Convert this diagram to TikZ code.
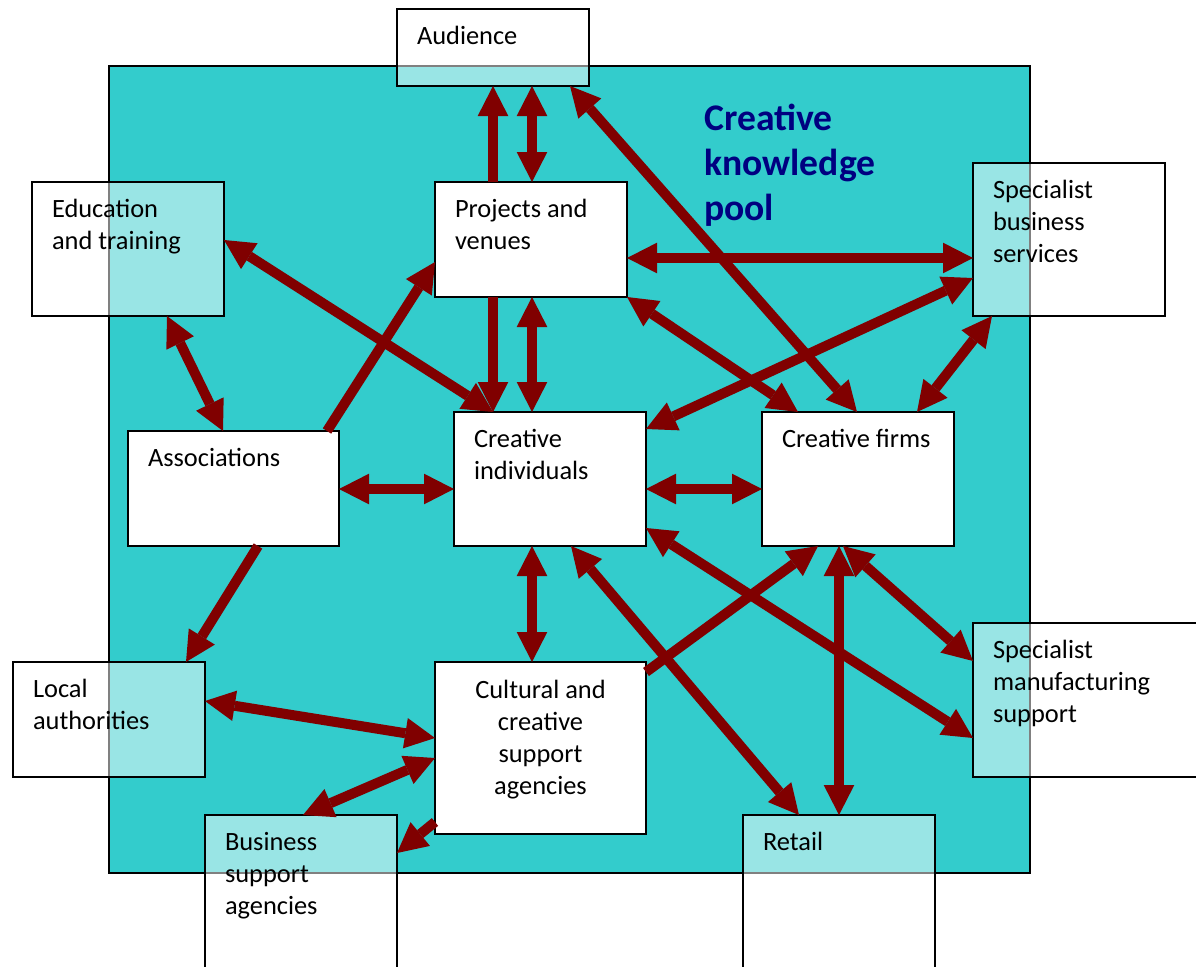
\documentclass[tikz,border=0pt]{standalone}
\usepackage{fontspec}
\setmainfont{Carlito}
\usetikzlibrary{arrows.meta,calc}
\definecolor{poolteal}{HTML}{33CCCC}
\definecolor{arrowred}{HTML}{800000}
\definecolor{titleblue}{RGB}{0,0,128}
\begin{document}
\begin{tikzpicture}[x=0.75pt,y=-0.75pt,
  box/.style 2 args={draw=black, line width=1.1pt, fill=white, minimum width=#1*0.75pt, minimum height=#2*0.75pt, inner sep=0pt, outer sep=0pt},
  outerbox/.style={fill opacity=0.5},
  lbl/.style={anchor=north west, inner sep=0pt, outer sep=0pt, align=left, font=\fontsize{19.8}{24}\selectfont},
  tipa/.tip={Triangle[length=22.5pt, width=23pt, line width=0pt]},
  conn/.style={draw=arrowred, line width=7.5pt},
  one/.style={conn, -tipa},
  two/.style={conn, tipa-tipa}
]
\useasboundingbox (0,0) rectangle (1196,967);
\clip (0,0) rectangle (1196,967);
% knowledge pool
\node[draw=black, line width=1.1pt, fill=poolteal, minimum width=921*0.75pt, minimum height=807*0.75pt, inner sep=0pt, outer sep=0pt] (pool) at (569.5,469.5) {};
\node[anchor=north west, inner sep=0pt, align=left, text=titleblue, font=\bfseries\fontsize{28.2}{33.75}\selectfont] (title) at (704,98.8) {\strut Creative\\knowledge\\pool};

% inner boxes
\node[box={192}{115}] (proj) at (531,239.5) {};
\node[box={211}{115}] (assoc) at (233.5,488.5) {};
\node[box={192}{134}] (indiv) at (550,479) {};
\node[box={192}{134}] (firms) at (858,479) {};
\node[box={211}{172}] (cult) at (540.5,748) {};
% outer boxes (half transparent)
\node[box={192}{77}, outerbox] (aud) at (493,47.5) {};
\node[box={192}{134}, outerbox] (edu) at (128,249) {};
\node[box={192}{153}, outerbox] (sbs) at (1069,239.5) {};
\node[box={192}{115}, outerbox] (local) at (109,719.5) {};
\node[box={230}{154}, outerbox] (sms) at (1088,700) {};
\node[box={192}{172}, outerbox] (bsa) at (301,901) {};
\node[box={192}{172}, outerbox] (retail) at (839,901) {};

% labels
\node[lbl] (taud) at ($(aud.north west)+(20,12.6)$) {\strut Audience};
\node[lbl] (tproj) at ($(proj.north west)+(20,12.6)$) {\strut Projects and\\venues};
\node[lbl] (tedu) at ($(edu.north west)+(20,12.6)$) {\strut Education\\and training};
\node[lbl] (tsbs) at ($(sbs.north west)+(20,12.6)$) {\strut Specialist\\business\\services};
\node[lbl] (tassoc) at ($(assoc.north west)+(20,12.6)$) {\strut Associations};
\node[lbl] (tindiv) at ($(indiv.north west)+(20,12.6)$) {\strut Creative\\individuals};
\node[lbl] (tfirms) at ($(firms.north west)+(20,12.6)$) {\strut Creative firms};
\node[lbl] (tlocal) at ($(local.north west)+(20,12.6)$) {\strut Local\\authorities};
\node[lbl, anchor=north, align=center] (tcult) at ($(cult.north)+(0,13.6)$) {\strut Cultural and\\creative\\support\\agencies};
\node[lbl] (tsms) at ($(sms.north west)+(20,12.6)$) {\strut Specialist\\manufacturing\\support};
\node[lbl] (tbsa) at ($(bsa.north west)+(20,12.6)$) {\strut Business\\support\\agencies};
\node[lbl] (tretail) at ($(retail.north west)+(20,12.6)$) {\strut Retail};

% connectors
\draw[one] ($(proj.north west)+(58,0)$) -- ($(aud.south west)+(96,0)$);
\draw[two] ($(proj.north west)+(97,0)$) -- ($(aud.south west)+(135,0)$);
\draw[two] ($(proj.north east)+(0,76)$) -- ($(sbs.north west)+(0,95)$);
\draw[two] ($(aud.south west)+(173,0)$) -- ($(firms.north west)+(95,0)$);
\draw[two] ($(edu.north east)+(0,58)$) -- ($(indiv.north west)+(39,0)$);
\draw[two] ($(edu.south west)+(135,0)$) -- ($(assoc.north west)+(95,0)$);
\draw[one] ($(assoc.north west)+(199,0)$) -- ($(proj.north west)+(0,80)$);
\draw[one] ($(proj.south west)+(58,0)$) -- ($(indiv.north west)+(39,0)$);
\draw[two] ($(proj.south west)+(97,0)$) -- ($(indiv.north west)+(78,0)$);
\draw[two] (proj.south east) -- ($(firms.north west)+(36,0)$);
\draw[two] ($(sbs.north west)+(0,115)$) -- ($(indiv.north east)+(0,17)$);
\draw[two] ($(sbs.south west)+(19,0)$) -- ($(firms.north west)+(155,0)$);
\draw[two] ($(assoc.north east)+(0,58)$) -- ($(indiv.north west)+(0,77)$);
\draw[two] ($(indiv.north east)+(0,77)$) -- ($(firms.north west)+(0,77)$);
\draw[one] ($(assoc.south west)+(130,0)$) -- ($(local.north west)+(173,0)$);
\draw[two] ($(indiv.south west)+(78,0)$) -- ($(cult.north west)+(97,0)$);
\draw[two] ($(indiv.south west)+(117,0)$) -- ($(retail.north west)+(56,0)$);
\draw[two] ($(indiv.south east)+(0,-18)$) -- ($(sms.north west)+(0,115)$);
\draw[one] ($(cult.north east)+(0,10)$) -- ($(firms.south west)+(56,0)$);
\draw[two] ($(firms.south west)+(77,0)$) -- ($(retail.north west)+(96,0)$);
\draw[two] ($(firms.south west)+(81,0)$) -- ($(sms.north west)+(0,38)$);
\draw[two] ($(local.north east)+(0,39)$) -- ($(cult.north west)+(0,76)$);
\draw[two] ($(cult.north west)+(0,96)$) -- ($(bsa.north west)+(98,0)$);
\draw[one] ($(cult.north west)+(0,160)$) -- ($(bsa.north east)+(0,38)$);
\end{tikzpicture}
\end{document}
